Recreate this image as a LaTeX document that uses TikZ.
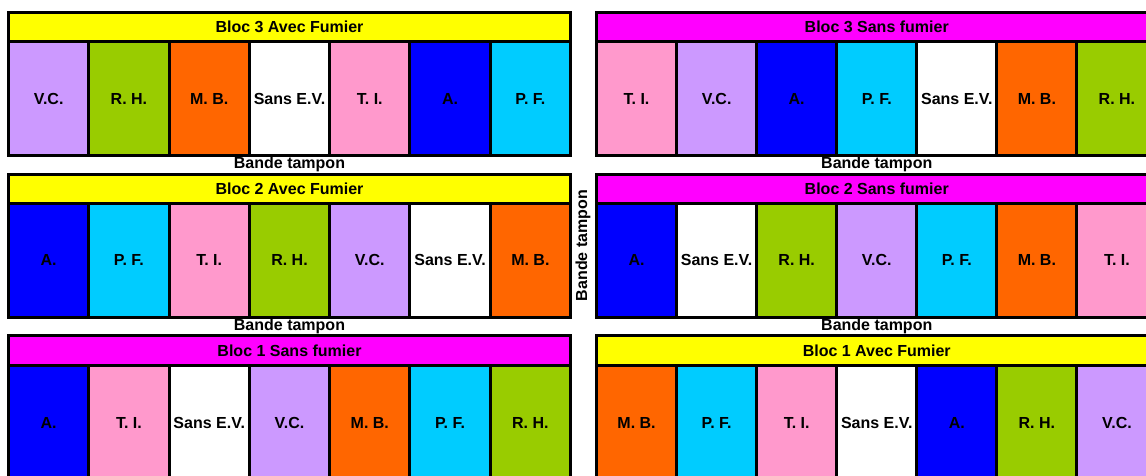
\documentclass[tikz,border=0pt]{standalone}
\usepackage{fontspec}
\setmainfont{Liberation Sans}
\definecolor{vc}{HTML}{CC99FF}
\definecolor{rh}{HTML}{99CC00}
\definecolor{mb}{HTML}{FF6600}
\definecolor{ti}{HTML}{FF99CC}
\definecolor{aa}{HTML}{0000FF}
\definecolor{pf}{HTML}{00CCFF}
\definecolor{sev}{HTML}{FFFFFF}
\definecolor{avec}{HTML}{FFFF00}
\definecolor{sans}{HTML}{FF00FF}
\newcommand\drawbloc[9]{%
  \node[cellbox, fill=#7, minimum width={7*#3}, minimum height={#5-#4}, anchor=north west] (#1h) at (#2,#4) {#8};
  \foreach \c/\t [count=\i] in {#9} {
    \node[cellbox, fill=\c, minimum width=#3, minimum height={#6-#5}, anchor=north west] (#1c\i) at ({#2+(\i-1)*#3},#5) {\t};
  }
}
\begin{document}
\begin{tikzpicture}[x=1pt,y=-1pt,
  cellbox/.style={draw=black, line width=3pt, inner sep=0pt, outer sep=0pt,
    font=\fontsize{16}{19}\selectfont\bfseries, text=black},
  tampon/.style={inner sep=0pt, font=\fontsize{16}{19}\selectfont\bfseries, text=black}]
\useasboundingbox (0,0) rectangle (1146,476);
\clip (0,0) rectangle (1146,476);
% left column
\drawbloc{LB3}{8.5}{80.286}{13}{41.5}{155.5}{avec}{Bloc 3 Avec Fumier}{vc/V.C., rh/R. H., mb/M. B., sev/Sans E.V., ti/T. I., aa/A., pf/P. F.}
\drawbloc{LB2}{8.5}{80.286}{174.5}{203}{317.5}{avec}{Bloc 2 Avec Fumier}{aa/A., pf/P. F., ti/T. I., rh/R. H., vc/V.C., sev/Sans E.V., mb/M. B.}
\drawbloc{LB1}{8.5}{80.286}{335.5}{365.5}{479.5}{sans}{Bloc 1 Sans fumier}{aa/A., ti/T. I., sev/Sans E.V., vc/V.C., mb/M. B., pf/P. F., rh/R. H.}
% right column
\drawbloc{RB3}{596.5}{80.07}{13}{41.5}{155.5}{sans}{Bloc 3 Sans fumier}{ti/T. I., vc/V.C., aa/A., pf/P. F., sev/Sans E.V., mb/M. B., rh/R. H.}
\drawbloc{RB2}{596.5}{80.07}{174.5}{203}{317.5}{sans}{Bloc 2 Sans fumier}{aa/A., sev/Sans E.V., rh/R. H., vc/V.C., pf/P. F., mb/M. B., ti/T. I.}
\drawbloc{RB1}{596.5}{80.07}{335.5}{365.5}{479.5}{avec}{Bloc 1 Avec Fumier}{mb/M. B., pf/P. F., ti/T. I., sev/Sans E.V., aa/A., rh/R. H., vc/V.C.}
% buffer strips
\node[tampon] (t1) at (289.5,164) {Bande tampon};
\node[tampon] (t2) at (876.75,164) {Bande tampon};
\node[tampon] (t3) at (289.5,326) {Bande tampon};
\node[tampon] (t4) at (876.75,326) {Bande tampon};
\node[tampon, rotate=90] (t5) at (583,245.5) {Bande tampon};
\end{tikzpicture}
\end{document}
